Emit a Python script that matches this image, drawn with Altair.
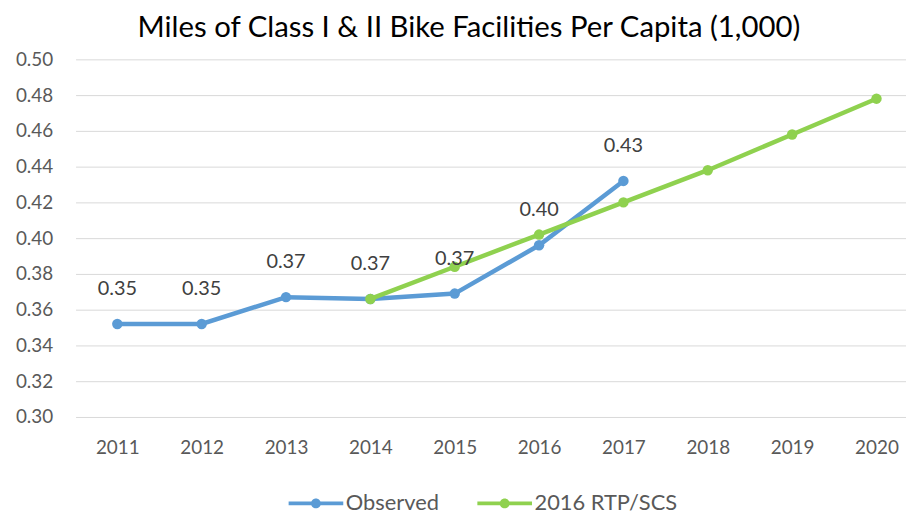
import altair as alt
import pandas as pd

# ---- data ----
obs_years = [2011, 2012, 2013, 2014, 2015, 2016, 2017]
observed = [0.352, 0.352, 0.367, 0.366, 0.369, 0.396, 0.432]
rtp_years = [2014, 2015, 2016, 2017, 2018, 2019, 2020]
rtp = [0.366, 0.384, 0.402, 0.420, 0.438, 0.458, 0.478]
x_ticks = [2011, 2012, 2013, 2014, 2015, 2016, 2017, 2018, 2019, 2020]
y_ticks = [0.30, 0.32, 0.34, 0.36, 0.38, 0.40, 0.42, 0.44, 0.46, 0.48, 0.50]
series_names = ["Observed", "2016 RTP/SCS"]
series_colors = ["#5B9BD5", "#8FD14F"]

df_obs = pd.DataFrame({"year": obs_years, "value": observed, "series": series_names[0]})
df_rtp = pd.DataFrame({"year": rtp_years, "value": rtp, "series": series_names[1]})

FONT = "Lato"
GRAY = "#595959"

legend_path = ("M-2.5,-0.18 L2.5,-0.18 L2.5,0.18 L-2.5,0.18 Z "
               "M-0.45,0 A0.45,0.45 0 1,1 0.45,0 A0.45,0.45 0 1,1 -0.45,0 Z")

x_enc = alt.X("year:Q",
              scale=alt.Scale(domain=[2010.505, 2020.35], nice=False, zero=False),
              axis=alt.Axis(values=x_ticks, format="d", title=None, grid=False,
                            domain=False, ticks=False, labelPadding=22,
                            labelFontSize=19, labelColor=GRAY, labelFont=FONT))
y_enc = alt.Y("value:Q",
              scale=alt.Scale(domain=[0.30, 0.50], nice=False, zero=False),
              axis=alt.Axis(values=y_ticks, format=".2f", title=None, grid=True,
                            gridColor="#D9D9D9", gridWidth=1, domain=False, ticks=False,
                            labelPadding=23, labelFontSize=19, labelColor=GRAY,
                            labelFont=FONT))
color_enc = alt.Color("series:N",
                      scale=alt.Scale(domain=series_names, range=series_colors),
                      sort=series_names,
                      legend=alt.Legend(title=None, orient="none", direction="horizontal",
                                        legendX=231, legendY=436,
                                        symbolType=legend_path, symbolSize=484,
                                        symbolStrokeWidth=0, labelOffset=19,
                                        columnPadding=38, labelFontSize=22,
                                        labelColor=GRAY, labelFont=FONT))

obs_line = alt.Chart(df_obs).mark_line(strokeWidth=4.5).encode(
    x=x_enc, y=y_enc, color=color_enc)
obs_pts = alt.Chart(df_obs).mark_point(filled=True, size=110, opacity=1).encode(
    x=x_enc, y=y_enc, color=color_enc)
rtp_line = alt.Chart(df_rtp).mark_line(strokeWidth=4.5).encode(
    x=x_enc, y=y_enc, color=color_enc)
rtp_pts = alt.Chart(df_rtp).mark_point(filled=True, size=110, opacity=1).encode(
    x=x_enc, y=y_enc, color=color_enc)
labels = alt.Chart(df_obs).mark_text(dy=-35, fontSize=20, font=FONT, color="#404040").encode(
    x=x_enc, y=y_enc, text=alt.Text("value:Q", format=".2f"))

chart = alt.layer(obs_pts, obs_line, rtp_line, rtp_pts, labels).properties(
    width=836, height=360,
    autosize=alt.AutoSizeParams(type="none"),
    padding={"left": 68, "top": 50, "right": 0, "bottom": 96},
    title=alt.Title("Miles of Class I & II Bike Facilities Per Capita (1,000)",
                    fontSize=29.5, font=FONT, fontWeight="normal", color="#000000",
                    anchor="middle", dx=-22, offset=7),
).configure_view(stroke=None)

chart.save("out.html", embed_options={"renderer": "svg", "actions": False})
